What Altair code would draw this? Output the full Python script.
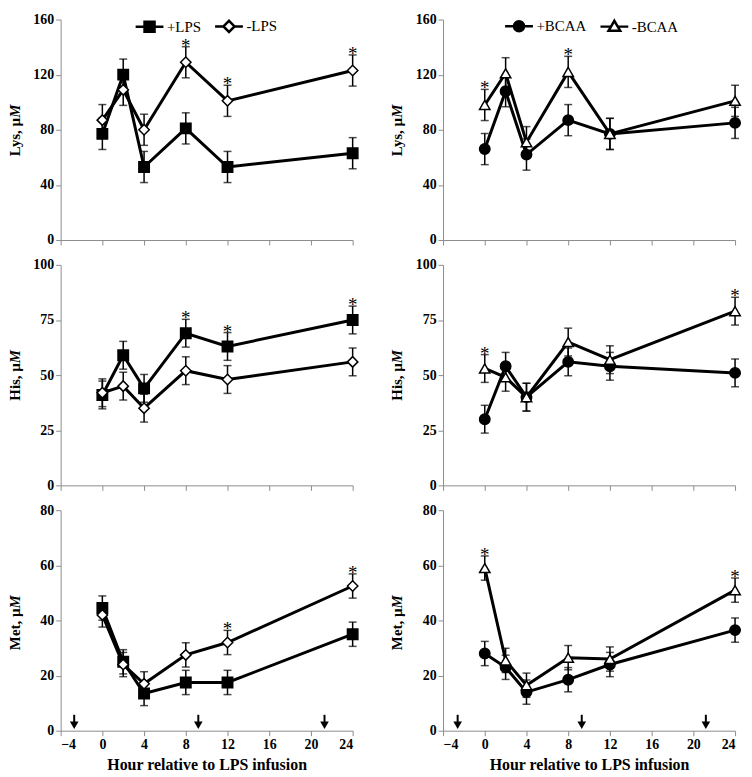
import altair as alt
import pandas as pd

# ---------------- data ----------------
hours = [0, 2, 4, 8, 12, 24]
x_ticks = [-4, 0, 4, 8, 12, 16, 20, 24]

lps_groups = ["+LPS", "-LPS"]
bcaa_groups = ["+BCAA", "-BCAA"]

# LPS comparison (left column)
lys_plus_lps = [77, 120, 53, 81, 53, 63]
lys_minus_lps = [87, 109, 80, 129, 101, 123]
his_plus_lps = [41, 59, 44, 69, 63, 75]
his_minus_lps = [42, 45, 35, 52, 48, 56]
met_plus_lps = [44.5, 25, 13.5, 17.5, 17.5, 35]
met_minus_lps = [42, 24, 17, 27.5, 32, 52.5]

# BCAA comparison (right column)
lys_plus_bcaa = [66, 108, 62, 87, 77, 85]
lys_minus_bcaa = [98, 121, 71, 122, 77, 101]
his_plus_bcaa = [30, 54, 40, 56, 54, 51]
his_minus_bcaa = [53, 49, 40, 65, 57, 79]
met_plus_bcaa = [28, 23, 14, 18.5, 24, 36.5]
met_minus_bcaa = [59, 25.5, 16.5, 26.5, 26, 51]

# standard errors
lys_se = [11.3, 11.3, 11.3, 11.3, 11.3, 11.3]
his_se = [6.3, 6.3, 6.3, 6.3, 6.3, 6.3]
met_se = [4.4, 4.4, 4.4, 4.4, 4.4, 4.4]

# hours with significant difference (*)
sig_lys_lps = [8, 12, 24]
sig_his_lps = [8, 12, 24]
sig_met_lps = [12, 24]
sig_lys_bcaa = [0, 8]
sig_his_bcaa = [0, 24]
sig_met_bcaa = [0, 24]

# arrows on the time axis
arrow_hours_lps = [-2.7, 9.2, 21.3]
arrow_hours_bcaa = [-2.6, 9.3, 21.2]

# y-axis titles (upright part, italic unit letter)
lys_title = ["Lys, µ", "M"]
his_title = ["His, µ", "M"]
met_title = ["Met, µ", "M"]
x_title = "Hour relative to LPS infusion"

# ---------------- style ----------------
W, H = 294, 222
SERIF = "Liberation Serif"

lps_marks = ["square", "diamond"]
bcaa_marks = ["circle", "triangle-up"]
lps_legend_paths = [
    "M-1,0H-0.36M0.36,0H1M-0.36,-0.36H0.36V0.36H-0.36Z",
    "M-1,0H-0.4M0.4,0H1M-0.4,0L0,-0.4L0.4,0L0,0.4Z",
]
bcaa_legend_paths = [
    "M-1,0H-0.36M0.36,0H1M-0.36,0A0.36,0.36 0 1 0 0.36,0A0.36,0.36 0 1 0 -0.36,0Z",
    "M-1,0H-0.22M0.22,0H1M0,-0.42L0.42,0.3L-0.42,0.3Z",
]


def make_frame(groups, plus, minus, se):
    df = pd.DataFrame({
        "hour": hours + hours,
        "group": [groups[0]] * len(hours) + [groups[1]] * len(hours),
        "value": plus + minus,
        "se": se + se,
    })
    df["lo"] = df["value"] - df["se"]
    df["hi"] = df["value"] + df["se"]
    return df


def panel(df, groups, marks, legend_paths, sig_hours, ymax, ystep, ytitle,
          show_legend, legend_x, bottom, arrow_hours):
    xscale = alt.Scale(domain=[-4, 24], nice=False, zero=False)
    if bottom:
        xaxis = alt.Axis(values=x_ticks, format="d", title=x_title)
    else:
        xaxis = alt.Axis(values=x_ticks, labels=False, title=None)
    yscale = alt.Scale(domain=[0, ymax], nice=False)
    yaxis = alt.Axis(values=list(range(0, ymax + 1, ystep)), title=None)

    def X():
        return alt.X("hour:Q", scale=xscale, axis=xaxis)

    def Y(field):
        return alt.Y(field + ":Q", scale=yscale, axis=yaxis)

    base = alt.Chart(df)
    lines = base.mark_line(color="black", strokeWidth=3).encode(
        x=X(), y=Y("value"), detail="group:N")
    bars = base.mark_rule(color="black", strokeWidth=1.5).encode(
        x=X(), y=Y("lo"), y2="hi:Q")
    cap_lo = base.mark_tick(color="black", orient="horizontal", size=8, thickness=1.5).encode(
        x=X(), y=Y("lo"))
    cap_hi = base.mark_tick(color="black", orient="horizontal", size=8, thickness=1.5).encode(
        x=X(), y=Y("hi"))
    pts = base.mark_point(opacity=1, strokeWidth=1.5, size=110, stroke="black").encode(
        x=X(), y=Y("value"),
        shape=alt.Shape("group:N", scale=alt.Scale(domain=groups, range=marks), legend=None),
        fill=alt.Fill("group:N", scale=alt.Scale(domain=groups, range=["black", "white"]), legend=None),
    )

    star_df = df[df["hour"].isin(sig_hours)].groupby("hour", as_index=False)["hi"].max()
    stars = alt.Chart(star_df).mark_text(
        text="*", font=SERIF, fontSize=19, color="black", baseline="alphabetic", dy=5
    ).encode(x=X(), y=Y("hi"))

    # y title: upright part + italic unit letter
    tdf = pd.DataFrame({"main": [ytitle[0]], "unit": [ytitle[1]]})
    t_main = alt.Chart(tdf).mark_text(
        font=SERIF, fontSize=15, fontWeight="bold", color="black", angle=270,
        align="right", baseline="alphabetic").encode(
        text="main:N", x=alt.value(-41), y=alt.value(H / 2 - 12))
    t_unit = alt.Chart(tdf).mark_text(
        font=SERIF, fontSize=15, fontWeight="bold", fontStyle="italic", color="black",
        angle=270, align="left", baseline="alphabetic").encode(
        text="unit:N", x=alt.value(-41), y=alt.value(H / 2 - 12))

    leg = alt.Legend(orient="none", legendX=legend_x, legendY=-9, direction="horizontal",
                     title=None, symbolSize=784, symbolStrokeWidth=2.5,
                     symbolStrokeColor="black", labelFont=SERIF, labelFontSize=15,
                     labelColor="black", labelOffset=2, columnPadding=8, padding=0)
    legend_layer = base.transform_filter("false").mark_point(
        opacity=1, strokeWidth=2.5).encode(
        shape=alt.Shape("group:N", scale=alt.Scale(domain=groups, range=legend_paths), legend=leg),
        fill=alt.Fill("group:N", scale=alt.Scale(domain=groups, range=["black", "white"]), legend=leg),
        stroke=alt.Stroke("group:N", scale=alt.Scale(domain=groups, range=["black", "black"]), legend=leg),
    )

    layers = [lines, bars, cap_lo, cap_hi, pts, stars, t_main, t_unit]
    if arrow_hours:
        adf = pd.DataFrame({"hour": arrow_hours})
        shaft = alt.Chart(adf).mark_rule(color="black", strokeWidth=2).encode(
            x=X(), y=alt.value(H - 16), y2=alt.value(H - 6))
        head = alt.Chart(adf).mark_point(shape="triangle-down", filled=True, color="black",
                                         size=75, opacity=1).encode(
            x=X(), y=alt.value(H - 5.5))
        layers += [shaft, head]
    if show_legend:
        layers.append(legend_layer)
    return alt.layer(*layers).resolve_scale(
        shape="independent", fill="independent", stroke="independent").properties(
        width=W, height=H)


lys_l = make_frame(lps_groups, lys_plus_lps, lys_minus_lps, lys_se)
his_l = make_frame(lps_groups, his_plus_lps, his_minus_lps, his_se)
met_l = make_frame(lps_groups, met_plus_lps, met_minus_lps, met_se)
lys_b = make_frame(bcaa_groups, lys_plus_bcaa, lys_minus_bcaa, lys_se)
his_b = make_frame(bcaa_groups, his_plus_bcaa, his_minus_bcaa, his_se)
met_b = make_frame(bcaa_groups, met_plus_bcaa, met_minus_bcaa, met_se)

p1 = panel(lys_l, lps_groups, lps_marks, lps_legend_paths, sig_lys_lps, 160, 40, lys_title, True, 74, False, None)
p2 = panel(lys_b, bcaa_groups, bcaa_marks, bcaa_legend_paths, sig_lys_bcaa, 160, 40, lys_title, True, 61, False, None)
p3 = panel(his_l, lps_groups, lps_marks, lps_legend_paths, sig_his_lps, 100, 25, his_title, False, 0, False, None)
p4 = panel(his_b, bcaa_groups, bcaa_marks, bcaa_legend_paths, sig_his_bcaa, 100, 25, his_title, False, 0, False, None)
p5 = panel(met_l, lps_groups, lps_marks, lps_legend_paths, sig_met_lps, 80, 20, met_title, False, 0, True, arrow_hours_lps)
p6 = panel(met_b, bcaa_groups, bcaa_marks, bcaa_legend_paths, sig_met_bcaa, 80, 20, met_title, False, 0, True, arrow_hours_bcaa)

chart = alt.vconcat(
    alt.hconcat(p1, p2, spacing=29),
    alt.hconcat(p3, p4, spacing=29),
    alt.hconcat(p5, p6, spacing=29),
    spacing=11,
).properties(padding=0).configure_view(stroke=None).configure_axis(
    domainColor="#8c8c8c", tickColor="#8c8c8c", domainWidth=1, tickWidth=1, grid=False,
    tickSize=5, labelFont=SERIF, labelFontWeight="bold", labelFontSize=14,
    labelColor="black", labelPadding=2, titleFont=SERIF, titleFontWeight="bold",
    titleFontSize=15, titleColor="black",
).configure_axisY(minExtent=34, maxExtent=34).configure_axisX(
    titleFontSize=16, titlePadding=5)

chart.save("out.html", embed_options={"renderer": "svg", "actions": False})
